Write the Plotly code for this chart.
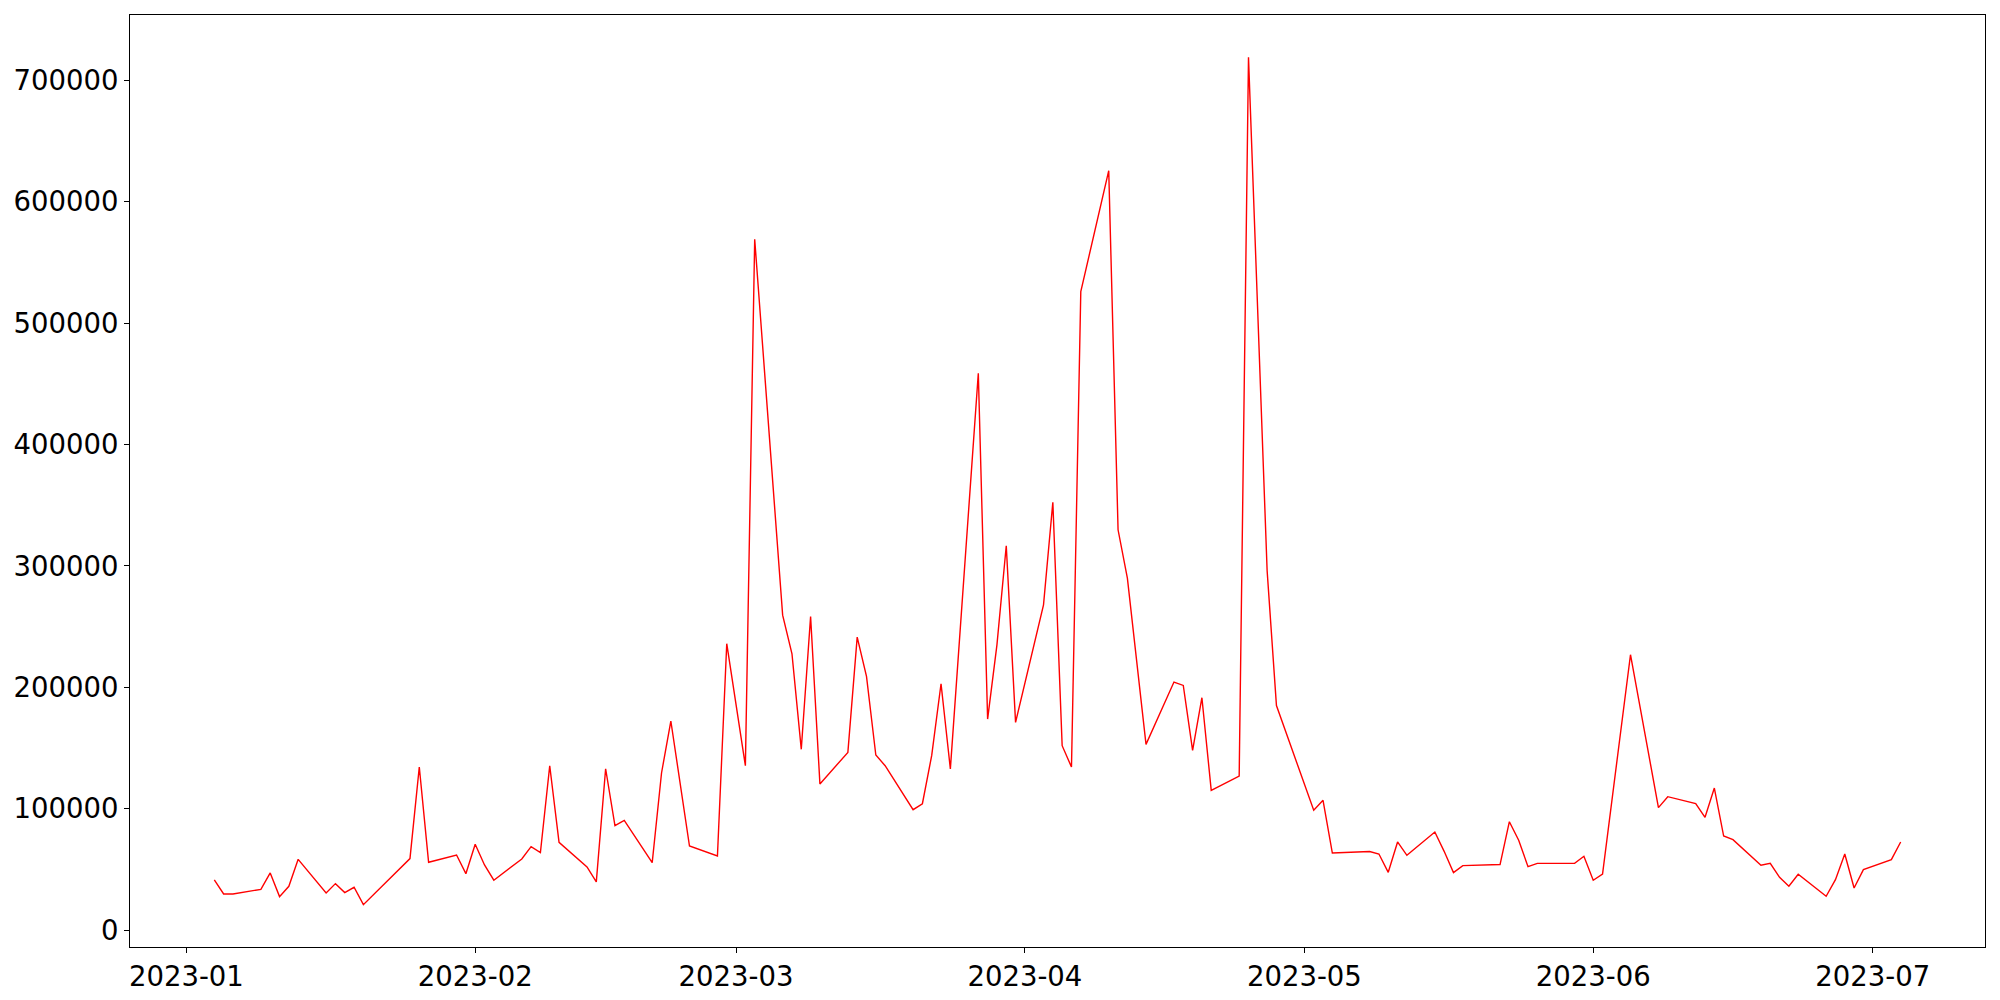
import plotly.graph_objects as go
import pandas as pd

dates = [
    "2023-01-04", "2023-01-05", "2023-01-06", "2023-01-09", "2023-01-10", "2023-01-11",
    "2023-01-12", "2023-01-13", "2023-01-16", "2023-01-17", "2023-01-18", "2023-01-19",
    "2023-01-20", "2023-01-25", "2023-01-26", "2023-01-27", "2023-01-30", "2023-01-31",
    "2023-02-01", "2023-02-02", "2023-02-03", "2023-02-06", "2023-02-07", "2023-02-08",
    "2023-02-09", "2023-02-10", "2023-02-13", "2023-02-14", "2023-02-15", "2023-02-16",
    "2023-02-17", "2023-02-20", "2023-02-21", "2023-02-22", "2023-02-24", "2023-02-27",
    "2023-02-28", "2023-03-02", "2023-03-03", "2023-03-06", "2023-03-07", "2023-03-08",
    "2023-03-09", "2023-03-10", "2023-03-13", "2023-03-14", "2023-03-15", "2023-03-16",
    "2023-03-17", "2023-03-20", "2023-03-21", "2023-03-22", "2023-03-23", "2023-03-24",
    "2023-03-27", "2023-03-28", "2023-03-29", "2023-03-30", "2023-03-31", "2023-04-03",
    "2023-04-04", "2023-04-05", "2023-04-06", "2023-04-07", "2023-04-10", "2023-04-11",
    "2023-04-12", "2023-04-14", "2023-04-17", "2023-04-18", "2023-04-19", "2023-04-20",
    "2023-04-21", "2023-04-24", "2023-04-25", "2023-04-27", "2023-04-28", "2023-05-02",
    "2023-05-03", "2023-05-04", "2023-05-08", "2023-05-09", "2023-05-10", "2023-05-11",
    "2023-05-12", "2023-05-15", "2023-05-16", "2023-05-17", "2023-05-18", "2023-05-22",
    "2023-05-23", "2023-05-24", "2023-05-25", "2023-05-26", "2023-05-30", "2023-05-31",
    "2023-06-01", "2023-06-02", "2023-06-05", "2023-06-08", "2023-06-09", "2023-06-12",
    "2023-06-13", "2023-06-14", "2023-06-15", "2023-06-16", "2023-06-19", "2023-06-20",
    "2023-06-21", "2023-06-22", "2023-06-23", "2023-06-26", "2023-06-27", "2023-06-28",
    "2023-06-29", "2023-06-30", "2023-07-03", "2023-07-04",
]

values = [
    41400, 29900, 29900, 33700, 47200, 27700,
    36200, 58400, 30700, 38400, 31000, 35400,
    21100, 59000, 134400, 56000, 62000, 46600,
    70800, 53800, 41200, 58700, 68900, 63900,
    135500, 72400, 52100, 39800, 133000, 86100,
    90500, 55700, 129500, 172300, 69400, 61200,
    236000, 135500, 569000, 259500, 227700, 149000,
    258400, 120400, 146500, 241400, 209100, 144300,
    135500, 99300, 104200, 144000, 203000, 132800,
    458700, 173900, 235000, 316600, 171200, 268000,
    352500, 152000, 134400, 525900, 625500, 329800,
    289900, 153100, 204400, 201600, 148100, 191500,
    115200, 127000, 718800, 296000, 185000, 98800,
    107000, 63600, 64800, 62800, 47700, 72700,
    61700, 80900, 65000, 47500, 53200, 54100,
    89400, 74100, 52400, 55100, 55100, 60900,
    41200, 46300, 226900, 101000, 110000, 104300,
    93000, 117100, 77600, 74600, 53500, 55100,
    43600, 36200, 46100, 28000, 41700, 62800,
    34800, 49900, 58200, 72700,
]

x = pd.to_datetime(dates)
y = values

# matplotlib-like 5% autoscale margins
xspan = x.max() - x.min()
xr = [x.min() - 0.05 * xspan, x.max() + 0.05 * xspan]
yspan = max(y) - min(y)
yr = [min(y) - 0.05 * yspan, max(y) + 0.05 * yspan]

fig = go.Figure()
fig.add_trace(go.Scatter(
    x=x, y=y, mode="lines",
    line=dict(color="#ff0000", width=1.4),
    showlegend=False,
))

axis_common = dict(
    showgrid=False, zeroline=False, automargin=False,
    showline=True, linecolor="black", linewidth=1.2, mirror=True,
    ticks="outside", ticklen=5, tickwidth=1.2, tickcolor="black",
    tickfont=dict(family="DejaVu Sans", size=27.5, color="black"),
)

fig.update_xaxes(
    range=xr, tickformat="%Y-%m", dtick="M1", tick0="2023-01-01",
    **axis_common,
)
fig.update_yaxes(
    range=yr, tickformat="d", dtick=100000, tick0=0,
    **axis_common,
)

# page body has an 8px margin, so the figure is sized/offset to compensate
fig.update_layout(
    width=1984, height=984,
    margin=dict(l=122, r=7, t=7, b=45, pad=0),
    plot_bgcolor="white", paper_bgcolor="white",
    font=dict(family="DejaVu Sans"),
)

fig.write_html("out.html")
